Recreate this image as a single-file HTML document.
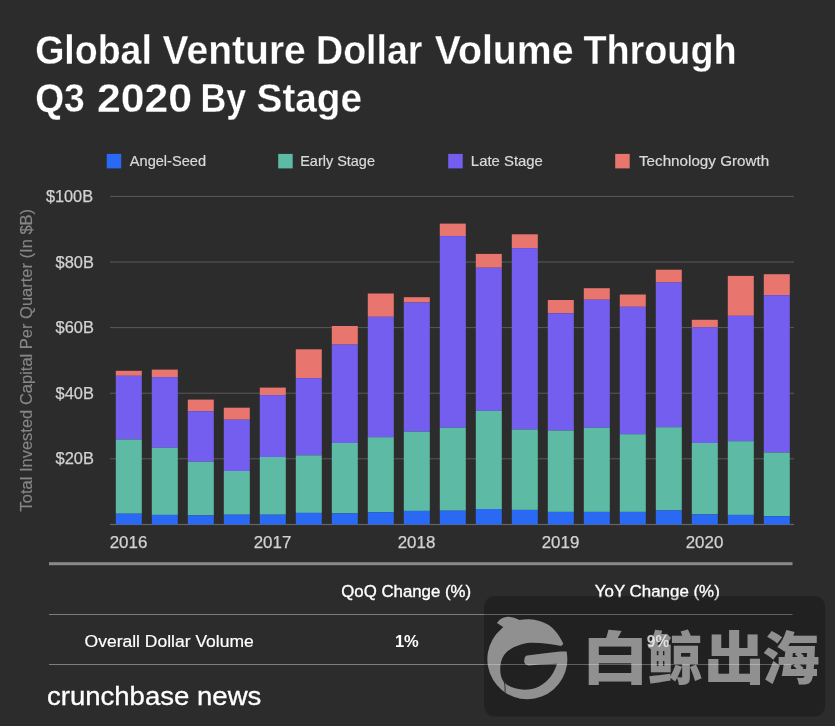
<!DOCTYPE html>
<html lang="en"><head><meta charset="utf-8"><title>Global Venture Dollar Volume Through Q3 2020 By Stage</title>
<style>
html,body{margin:0;padding:0;background:#2c2c2c;}
body{width:835px;height:726px;overflow:hidden;position:relative;font-family:"Liberation Sans","Noto Sans CJK SC",sans-serif;}
svg{position:absolute;left:0;top:0;display:block;filter:blur(0.4px);}
text{font-family:"Liberation Sans","Noto Sans CJK SC",sans-serif;}
.ttl{font-size:41.3px;font-weight:bold;fill:#fff;stroke:#2c2c2c;stroke-width:0.3px;}
.ax{font-size:16.4px;fill:#d2d2d2;stroke:#d2d2d2;stroke-width:0.25px;}
.lg{font-size:14.5px;fill:#dadada;stroke:#dadada;stroke-width:0.2px;}
.yt{font-size:17px;fill:#868686;stroke:#868686;stroke-width:0.15px;}
.th{font-size:17.4px;fill:#fff;stroke:#fff;stroke-width:0.35px;}
.td{font-size:17.4px;fill:#fff;stroke:#fff;stroke-width:0.2px;}
.tb{font-size:17.2px;fill:#fff;font-weight:bold;}
.cb{font-size:26px;fill:#fff;stroke:#fff;stroke-width:0.3px;}
.wm{font-family:"Noto Sans CJK SC","WenQuanYi Zen Hei",sans-serif;font-weight:900;font-size:57px;}
</style></head>
<body>
<svg width="835" height="726" viewBox="0 0 835 726">
<rect width="835" height="726" fill="#2c2c2c"/>
<g id="title">
<text y="64.4" class="ttl"><tspan x="35.18" textLength="116.69" lengthAdjust="spacingAndGlyphs">Global</tspan> <tspan x="162.60" textLength="143.20" lengthAdjust="spacingAndGlyphs">Venture</tspan> <tspan x="316.07" textLength="106.37" lengthAdjust="spacingAndGlyphs">Dollar</tspan> <tspan x="434.80" textLength="138.64" lengthAdjust="spacingAndGlyphs">Volume</tspan> <tspan x="583.40" textLength="153.23" lengthAdjust="spacingAndGlyphs">Through</tspan></text>
<text y="111.8" class="ttl"><tspan x="35.20" textLength="49.58" lengthAdjust="spacingAndGlyphs">Q3</tspan> <tspan x="97.07" textLength="95.08" lengthAdjust="spacingAndGlyphs">2020</tspan> <tspan x="200.40" textLength="45.69" lengthAdjust="spacingAndGlyphs">By</tspan> <tspan x="256.56" textLength="105.52" lengthAdjust="spacingAndGlyphs">Stage</tspan></text>
</g>
<g id="legend">
<rect x="106.7" y="153.9" width="14.5" height="14.5" fill="#2969f3"/>
<rect x="278.2" y="153.9" width="14.5" height="14.5" fill="#5cbaa5"/>
<rect x="448.2" y="153.9" width="14.5" height="14.5" fill="#735ef0"/>
<rect x="615.2" y="153.9" width="14.5" height="14.5" fill="#e8756e"/>
<text x="129.80" y="165.7" class="lg" textLength="76.19" lengthAdjust="spacingAndGlyphs">Angel-Seed</text>
<text x="300.20" y="165.7" class="lg" textLength="74.77" lengthAdjust="spacingAndGlyphs">Early Stage</text>
<text x="470.87" y="165.7" class="lg" textLength="71.99" lengthAdjust="spacingAndGlyphs">Late Stage</text>
<text x="639.00" y="165.7" class="lg" textLength="130.18" lengthAdjust="spacingAndGlyphs">Technology Growth</text>
</g>
<g id="grid">
<rect x="110" y="195.9" width="684" height="1" fill="#595959"/>
<rect x="110" y="261.5" width="684" height="1" fill="#595959"/>
<rect x="110" y="327.1" width="684" height="1" fill="#595959"/>
<rect x="110" y="392.7" width="684" height="1" fill="#595959"/>
<rect x="110" y="458.3" width="684" height="1" fill="#595959"/>
<rect x="110" y="523.9" width="684" height="1.2" fill="#666"/>
</g>
<g id="ylabels">
<text x="45.90" y="201.9" class="ax" textLength="47.20" lengthAdjust="spacingAndGlyphs">$100B</text>
<text x="55.60" y="267.5" class="ax" textLength="38.38" lengthAdjust="spacingAndGlyphs">$80B</text>
<text x="55.60" y="333.1" class="ax" textLength="38.38" lengthAdjust="spacingAndGlyphs">$60B</text>
<text x="55.60" y="398.7" class="ax" textLength="38.38" lengthAdjust="spacingAndGlyphs">$40B</text>
<text x="55.60" y="464.3" class="ax" textLength="38.38" lengthAdjust="spacingAndGlyphs">$20B</text>
<text transform="translate(31.8,511.50) rotate(-90)" class="yt" textLength="302.59" lengthAdjust="spacingAndGlyphs">Total Invested Capital Per Quarter (In $B)</text>
</g>
<g id="bars">
<rect x="115.8" y="370.8" width="26" height="5.0" fill="#e8756e"/>
<rect x="115.8" y="375.8" width="26" height="63.7" fill="#735ef0"/>
<rect x="115.8" y="439.5" width="26" height="74.2" fill="#5cbaa5"/>
<rect x="115.8" y="513.7" width="26" height="10.8" fill="#2969f3"/>
<rect x="151.8" y="369.6" width="26" height="7.5" fill="#e8756e"/>
<rect x="151.8" y="377.1" width="26" height="70.7" fill="#735ef0"/>
<rect x="151.8" y="447.8" width="26" height="67.1" fill="#5cbaa5"/>
<rect x="151.8" y="514.9" width="26" height="9.6" fill="#2969f3"/>
<rect x="187.8" y="399.6" width="26" height="11.6" fill="#e8756e"/>
<rect x="187.8" y="411.2" width="26" height="50.6" fill="#735ef0"/>
<rect x="187.8" y="461.8" width="26" height="53.6" fill="#5cbaa5"/>
<rect x="187.8" y="515.4" width="26" height="9.1" fill="#2969f3"/>
<rect x="223.8" y="407.7" width="26" height="12.0" fill="#e8756e"/>
<rect x="223.8" y="419.7" width="26" height="51.3" fill="#735ef0"/>
<rect x="223.8" y="471.0" width="26" height="43.7" fill="#5cbaa5"/>
<rect x="223.8" y="514.7" width="26" height="9.8" fill="#2969f3"/>
<rect x="259.8" y="387.6" width="26" height="7.5" fill="#e8756e"/>
<rect x="259.8" y="395.1" width="26" height="61.9" fill="#735ef0"/>
<rect x="259.8" y="457.0" width="26" height="57.7" fill="#5cbaa5"/>
<rect x="259.8" y="514.7" width="26" height="9.8" fill="#2969f3"/>
<rect x="295.8" y="349.3" width="26" height="28.8" fill="#e8756e"/>
<rect x="295.8" y="378.1" width="26" height="77.2" fill="#735ef0"/>
<rect x="295.8" y="455.3" width="26" height="57.6" fill="#5cbaa5"/>
<rect x="295.8" y="512.9" width="26" height="11.6" fill="#2969f3"/>
<rect x="331.8" y="326.0" width="26" height="18.6" fill="#e8756e"/>
<rect x="331.8" y="344.6" width="26" height="98.4" fill="#735ef0"/>
<rect x="331.8" y="443.0" width="26" height="70.4" fill="#5cbaa5"/>
<rect x="331.8" y="513.4" width="26" height="11.1" fill="#2969f3"/>
<rect x="367.8" y="293.5" width="26" height="23.3" fill="#e8756e"/>
<rect x="367.8" y="316.8" width="26" height="120.4" fill="#735ef0"/>
<rect x="367.8" y="437.2" width="26" height="75.0" fill="#5cbaa5"/>
<rect x="367.8" y="512.2" width="26" height="12.3" fill="#2969f3"/>
<rect x="403.8" y="297.2" width="26" height="5.3" fill="#e8756e"/>
<rect x="403.8" y="302.5" width="26" height="129.2" fill="#735ef0"/>
<rect x="403.8" y="431.7" width="26" height="79.2" fill="#5cbaa5"/>
<rect x="403.8" y="510.9" width="26" height="13.6" fill="#2969f3"/>
<rect x="439.8" y="223.6" width="26" height="12.5" fill="#e8756e"/>
<rect x="439.8" y="236.1" width="26" height="191.6" fill="#735ef0"/>
<rect x="439.8" y="427.7" width="26" height="83.0" fill="#5cbaa5"/>
<rect x="439.8" y="510.7" width="26" height="13.8" fill="#2969f3"/>
<rect x="475.8" y="253.9" width="26" height="13.8" fill="#e8756e"/>
<rect x="475.8" y="267.7" width="26" height="143.2" fill="#735ef0"/>
<rect x="475.8" y="410.9" width="26" height="98.1" fill="#5cbaa5"/>
<rect x="475.8" y="509.0" width="26" height="15.5" fill="#2969f3"/>
<rect x="511.8" y="234.3" width="26" height="13.8" fill="#e8756e"/>
<rect x="511.8" y="248.1" width="26" height="181.4" fill="#735ef0"/>
<rect x="511.8" y="429.5" width="26" height="80.4" fill="#5cbaa5"/>
<rect x="511.8" y="509.9" width="26" height="14.6" fill="#2969f3"/>
<rect x="547.8" y="300.0" width="26" height="13.3" fill="#e8756e"/>
<rect x="547.8" y="313.3" width="26" height="117.2" fill="#735ef0"/>
<rect x="547.8" y="430.5" width="26" height="81.4" fill="#5cbaa5"/>
<rect x="547.8" y="511.9" width="26" height="12.6" fill="#2969f3"/>
<rect x="583.8" y="288.2" width="26" height="11.5" fill="#e8756e"/>
<rect x="583.8" y="299.7" width="26" height="128.0" fill="#735ef0"/>
<rect x="583.8" y="427.7" width="26" height="84.2" fill="#5cbaa5"/>
<rect x="583.8" y="511.9" width="26" height="12.6" fill="#2969f3"/>
<rect x="619.8" y="294.5" width="26" height="12.3" fill="#e8756e"/>
<rect x="619.8" y="306.8" width="26" height="127.4" fill="#735ef0"/>
<rect x="619.8" y="434.2" width="26" height="77.7" fill="#5cbaa5"/>
<rect x="619.8" y="511.9" width="26" height="12.6" fill="#2969f3"/>
<rect x="655.8" y="269.7" width="26" height="12.8" fill="#e8756e"/>
<rect x="655.8" y="282.5" width="26" height="144.7" fill="#735ef0"/>
<rect x="655.8" y="427.2" width="26" height="83.2" fill="#5cbaa5"/>
<rect x="655.8" y="510.4" width="26" height="14.1" fill="#2969f3"/>
<rect x="691.8" y="319.8" width="26" height="7.5" fill="#e8756e"/>
<rect x="691.8" y="327.3" width="26" height="115.7" fill="#735ef0"/>
<rect x="691.8" y="443.0" width="26" height="71.4" fill="#5cbaa5"/>
<rect x="691.8" y="514.4" width="26" height="10.1" fill="#2969f3"/>
<rect x="727.8" y="275.9" width="26" height="39.9" fill="#e8756e"/>
<rect x="727.8" y="315.8" width="26" height="125.4" fill="#735ef0"/>
<rect x="727.8" y="441.2" width="26" height="73.7" fill="#5cbaa5"/>
<rect x="727.8" y="514.9" width="26" height="9.6" fill="#2969f3"/>
<rect x="763.8" y="274.2" width="26" height="21.0" fill="#e8756e"/>
<rect x="763.8" y="295.2" width="26" height="157.3" fill="#735ef0"/>
<rect x="763.8" y="452.5" width="26" height="63.7" fill="#5cbaa5"/>
<rect x="763.8" y="516.2" width="26" height="8.3" fill="#2969f3"/>
</g>
<g id="xlabels">
<text x="109.72" y="547.5" class="ax" textLength="37.61" lengthAdjust="spacingAndGlyphs">2016</text>
<text x="253.72" y="547.5" class="ax" textLength="37.61" lengthAdjust="spacingAndGlyphs">2017</text>
<text x="397.72" y="547.5" class="ax" textLength="37.61" lengthAdjust="spacingAndGlyphs">2018</text>
<text x="541.72" y="547.5" class="ax" textLength="37.61" lengthAdjust="spacingAndGlyphs">2019</text>
<text x="685.72" y="547.5" class="ax" textLength="37.61" lengthAdjust="spacingAndGlyphs">2020</text>
</g>
<g id="table">
<rect x="49" y="562.2" width="743.5" height="3" fill="#898989"/>
<rect x="49" y="614" width="743.5" height="1" fill="#7e7e7e"/>
<rect x="49" y="664" width="743.5" height="1" fill="#7e7e7e"/>
<text x="341.23" y="596.9" class="th" textLength="129.88" lengthAdjust="spacingAndGlyphs">QoQ Change (%)</text>
<text x="594.83" y="596.9" class="th" textLength="124.95" lengthAdjust="spacingAndGlyphs">YoY Change (%)</text>
<text x="84.59" y="646.7" class="td" textLength="169.19" lengthAdjust="spacingAndGlyphs">Overall Dollar Volume</text>
<text x="394.94" y="646.6" class="tb" textLength="23.87" lengthAdjust="spacingAndGlyphs">1%</text>
<text x="646.80" y="646.6" class="tb" textLength="22.36" lengthAdjust="spacingAndGlyphs">9%</text>
</g>
<text x="46.94" y="705.0" class="cb" textLength="214.38" lengthAdjust="spacingAndGlyphs">crunchbase news</text>
<g id="watermark">
<rect x="484" y="596" width="341.3" height="120.5" rx="11" ry="11" fill="#000" fill-opacity="0.23"/>
<g fill="#fff" fill-opacity="0.5">
<path d="M566.6 651.5 A40 40 0 1 1 501.5 628.7 L503.2 627 L496.9 622.9 L500.2 619.2 Q504 616.5 508.8 616.7 Q514 617 519.6 620 Q524 619 529.3 619.2 C536 619.3 543 621.5 548.7 625.1 C555 629.5 560 636.5 563.3 644 L561.2 646 C552 644 540 642.5 530.7 642.8 C520 643.2 508 649 503.8 655.4 C500 661 499.5 670 501 676 C503 684 510 688.5 525 689.7 C540 689.5 552 680 557 663.7 L540 664.4 L528.3 665.5 Q523.5 664.5 524.3 660.2 Q524.5 656 527 655.4 L545 653.2 L560 651.5 Z"/>
<text y="678.5" class="wm"><tspan x="581.25" textLength="67.89" lengthAdjust="spacingAndGlyphs">白</tspan><tspan x="647.34" textLength="54.93" lengthAdjust="spacingAndGlyphs">鲸</tspan><tspan x="703.70" textLength="61.28" lengthAdjust="spacingAndGlyphs">出</tspan><tspan x="761.98" textLength="57.63" lengthAdjust="spacingAndGlyphs">海</tspan></text>
</g>
<path d="M503.9 679.5 Q505.4 686 505.2 692.3" stroke="#272727" stroke-width="0.9" fill="none"/>
</g>
</svg>
</body></html>
